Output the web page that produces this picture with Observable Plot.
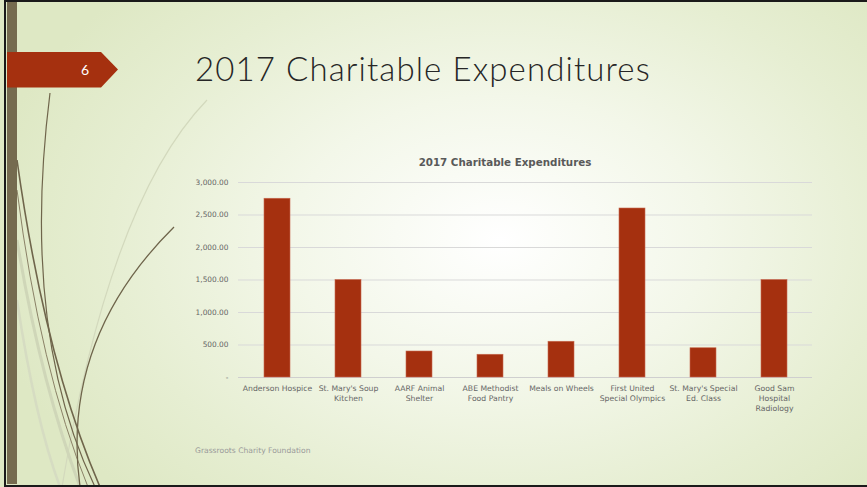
<!DOCTYPE html>
<html>
<head>
<meta charset="utf-8">
<script src="https://cdn.jsdelivr.net/npm/d3@7"></script>
<script src="https://cdn.jsdelivr.net/npm/@observablehq/plot@0.6"></script>
<style>
  html, body { margin: 0; padding: 0; }
  body { width: 867px; height: 487px; overflow: hidden; font-family: "DejaVu Sans", sans-serif; }
  #slide {
    position: absolute; left: 0; top: 0; width: 867px; height: 487px;
    background: radial-gradient(ellipse 520px 360px at 500px 240px, #ffffff 0%, #f3f7e9 40%, #e6eed2 75%, #dee8c4 100%);
    overflow: hidden;
  }
  #frame { position: absolute; left: 4px; top: 0px; width: 870px; height: 483px; border-top: 2px solid #1a1a1a; border-left: 2px solid #1a1a1a; border-bottom: 2px solid #1a1a1a; box-sizing: content-box; pointer-events: none; }
  #stripe { position: absolute; left: 7px; top: 2px; width: 10px; height: 482px; background: #756b4f; }
  #deco { position: absolute; left: 0; top: 0; }
  #badge { position: absolute; left: 7px; top: 52px; }
  #num { position: absolute; left: 81px; top: 61px; color: #fff; font-size: 14px; font-family: "Lato", sans-serif; }
  #title { position: absolute; left: 195px; top: 48px; font-size: 33px; font-weight: 300; color: #262626; font-family: "Lato", sans-serif; letter-spacing: 1.1px; white-space: nowrap; }
  #ctitle { position: absolute; left: 0; width: 1010px; text-align: center; top: 156px; font-size: 10.3px; font-weight: bold; color: #595959; font-family: "DejaVu Sans", sans-serif; white-space: nowrap; }
  #footer { position: absolute; left: 195px; top: 446px; font-size: 7.6px; color: #9a9a9a; font-family: "DejaVu Sans", sans-serif; }
  #chart { position: absolute; left: 0; top: 0; }
</style>
</head>
<body>
<div id="slide">
  <svg id="deco" width="867" height="487">
    <path d="M207,100 Q110,200 62,487" fill="none" stroke="#d3d9bd" stroke-width="1.2"/>
    <path d="M17,240 Q40,380 80,487" fill="none" stroke="#cfd6b8" stroke-width="3"/>
    <path d="M17,300 Q35,420 60,487" fill="none" stroke="#d6dcc2" stroke-width="2.5"/>
    <path d="M50,93 Q20,330 95,487" fill="none" stroke="#6f654b" stroke-width="1.2"/>
    <path d="M17,160 Q45,360 100,487" fill="none" stroke="#6f654b" stroke-width="1.6"/>
    <path d="M17,190 Q40,370 88,487" fill="none" stroke="#8a8166" stroke-width="1"/>
    <path d="M174,227 Q60,340 80,487" fill="none" stroke="#6f654b" stroke-width="1.3"/>
  </svg>
  <div id="stripe"></div>
  <svg id="badge" width="115" height="37"><polygon points="0,0 94,0 111,17.5 94,35.5 0,35.5" fill="#a5300f"/></svg>
  <div id="num">6</div>
  <div id="title">2017 Charitable Expenditures</div>
  <div id="ctitle">2017 Charitable Expenditures</div>
  <div id="chart"></div>
  <div id="footer">Grassroots Charity Foundation</div>
  <div id="frame"></div>
</div>
<script>
const categories = ["Anderson Hospice", "St. Mary's Soup Kitchen", "AARF Animal Shelter", "ABE Methodist Food Pantry", "Meals on Wheels", "First United Special Olympics", "St. Mary's Special Ed. Class", "Good Sam Hospital Radiology"];
const tickLabels = ["Anderson Hospice", "St. Mary's Soup\nKitchen", "AARF Animal\nShelter", "ABE Methodist\nFood Pantry", "Meals on Wheels", "First United\nSpecial Olympics", "St. Mary's Special\nEd. Class", "Good Sam\nHospital\nRadiology"];
const values = [2750, 1500, 400, 350, 550, 2600, 450, 1500];
const yTicks = [0, 500, 1000, 1500, 2000, 2500, 3000];

const data = categories.map((c, i) => ({category: c, value: values[i]}));
const labelOf = new Map(categories.map((c, i) => [c, tickLabels[i]]));
const fmt = d3.format(",.2f");

const chart = Plot.plot({
  width: 867,
  height: 487,
  marginLeft: 238,
  marginRight: 55,
  marginTop: 182,
  marginBottom: 110,
  style: {background: "transparent", fontFamily: "DejaVu Sans, sans-serif", color: "#595959"},
  x: {domain: categories, paddingInner: 0.64, paddingOuter: 0.32, label: null},
  y: {domain: [0, 3000], label: null},
  marks: [
    Plot.gridY(yTicks, {stroke: "#d9d9d9", strokeOpacity: 1, strokeWidth: 1}),
    Plot.ruleY([0], {stroke: "#cfcfcf", strokeWidth: 1}),
    Plot.barY(data, {x: "category", y: "value", fill: "#a5300f", stroke: "#c86a50", strokeWidth: 0.6}),
    Plot.axisY(yTicks, {tickSize: 0, tickPadding: 10, fontSize: 7.4, fill: "#666666", tickFormat: d => d === 0 ? "-" : fmt(d)}),
    Plot.axisX({tickSize: 0, tickPadding: 6, fontSize: 7.7, lineHeight: 1.3, fill: "#666666", tickFormat: d => labelOf.get(d)})
  ]
});
document.getElementById("chart").appendChild(chart);
</script>
</body>
</html>
